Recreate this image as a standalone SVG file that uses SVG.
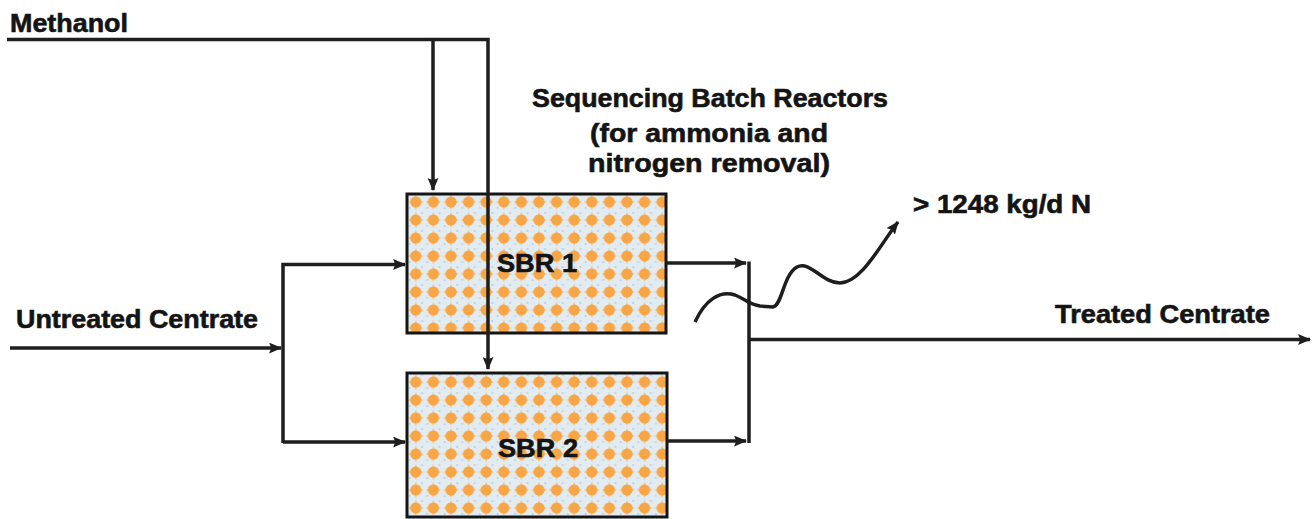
<svg xmlns="http://www.w3.org/2000/svg" width="1315" height="519" viewBox="0 0 1315 519">
<style>
.ln{fill:none;stroke:#1e1e1e;stroke-width:3.5;stroke-linecap:butt}
.box{fill:url(#dots);stroke:#151515;stroke-width:3}
.t{font-family:"Liberation Sans",Arial,sans-serif;font-weight:bold;font-size:25px;fill:#141414;stroke:#141414;stroke-width:0.6}
</style>
<defs>
<pattern id="dots" x="407" y="193" width="17.6" height="18" patternUnits="userSpaceOnUse">
<rect width="17.6" height="18" fill="#e1ebf0"/>
<circle cx="15" cy="2" r="1" fill="#b2cfe3"/>
<circle cx="2.5" cy="15" r="0.9" fill="#b2cfe3"/>
<circle cx="8.8" cy="9" r="5.6" fill="#f8a545"/>
<path d="M8.8,0.8 L10.6,9 L8.8,17.2 L7,9 Z M0.8,9 L8.8,7.2 L16.8,9 L8.8,10.8 Z" fill="#f8a545"/>
</pattern>
<marker id="ah" viewBox="0 0 12 10" refX="11" refY="5" markerWidth="13" markerHeight="11" markerUnits="userSpaceOnUse" orient="auto">
<path d="M0,0 L12,5 L0,10 L2,5 Z" fill="#1e1e1e"/>
</marker>
</defs>
<g id="sbr1">
<rect class="box" x="407" y="194" width="259" height="139"/>
<text class="t" x="497" y="272" textLength="80" lengthAdjust="spacingAndGlyphs">SBR 1</text>
</g>
<g id="sbr2">
<rect class="box" x="407" y="373" width="260" height="144"/>
<text class="t" x="498" y="457" textLength="80" lengthAdjust="spacingAndGlyphs">SBR 2</text>
</g>
<g id="connectors">
<path class="ln" d="M7,39.5 L488,39.5 L488,369" marker-end="url(#ah)"/>
<path class="ln" d="M433,39.5 L433,190" marker-end="url(#ah)"/>
<path class="ln" d="M10,348 L281,348" marker-end="url(#ah)"/>
<path class="ln" d="M283,443 L283,264.5 L405,264.5" marker-end="url(#ah)"/>
<path class="ln" d="M283,442 L405,442" marker-end="url(#ah)"/>
<path class="ln" d="M666,263 L746,263" marker-end="url(#ah)"/>
<path class="ln" d="M667,441 L746,441" marker-end="url(#ah)"/>
<path class="ln" d="M749,261.5 L749,443"/>
<path class="ln" d="M749,339.5 L1310,339.5" marker-end="url(#ah)"/>
<path class="ln" stroke-width="4" stroke-linecap="round" d="M695,322 C705,300 720,290 735,295 C745,299 750,305 760,306 L773,307 C782,306 783,275 797,267 C810,260 822,283 840,283 C862,282 880,245 898,222" marker-end="url(#ah)"/>
</g>
<g id="labels">
<text class="t" x="10" y="32" textLength="118" lengthAdjust="spacingAndGlyphs">Methanol</text>
<text class="t" x="16" y="328" textLength="242" lengthAdjust="spacingAndGlyphs">Untreated Centrate</text>
<text class="t" x="1055" y="323" textLength="215" lengthAdjust="spacingAndGlyphs">Treated Centrate</text>
<text class="t" x="913" y="213" textLength="178" lengthAdjust="spacingAndGlyphs">&gt; 1248 kg/d N</text>
<text class="t" x="532" y="107" textLength="356" lengthAdjust="spacingAndGlyphs">Sequencing Batch Reactors</text>
<text class="t" x="590" y="142" textLength="238" lengthAdjust="spacingAndGlyphs">(for ammonia and</text>
<text class="t" x="588" y="172" textLength="242" lengthAdjust="spacingAndGlyphs">nitrogen removal)</text>
</g>
</svg>
